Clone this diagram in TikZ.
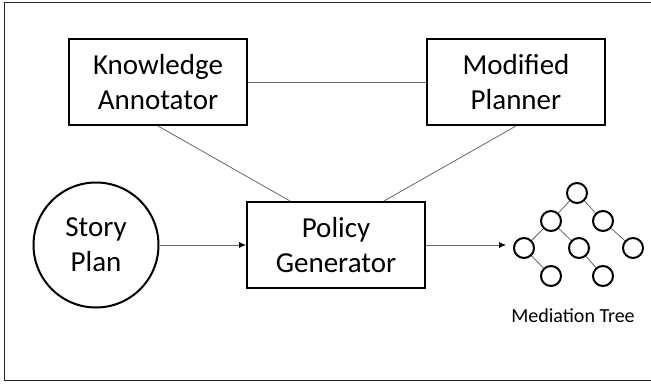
\documentclass[tikz,border=0pt]{standalone}
\usepackage{fontspec}
\setmainfont{Carlito}
\usetikzlibrary{arrows.meta}

\begin{document}
\begin{tikzpicture}[x=1pt,y=-1pt]
\useasboundingbox (0,0) rectangle (651,385);
\draw[line width=1pt,black!85] (4,3) rectangle (670,380);

\begin{scope}[every node/.style={draw,line width=2pt,align=center,inner sep=0pt,
                                 font=\fontsize{29}{35}\selectfont}]
    \node[minimum width=178pt,minimum height=86pt] (ka) at (158,82) {Knowledge\\Annotator};
    \node[minimum width=178pt,minimum height=86pt] (mp) at (516,82) {Modified\\Planner};
    \node[minimum width=178pt,minimum height=86pt] (pg) at (336,245) {Policy\\Generator};
    \node[circle,minimum size=125pt] (sp) at (96,245) {Story\\Plan};
\end{scope}

\begin{scope}[every node/.style={circle,draw,line width=2pt,minimum size=20pt,inner sep=0pt}]
    \node (t1) at (577,193) {};
    \node (t2) at (551,221) {};
    \node (t3) at (603,221) {};
    \node (t4) at (524,248) {};
    \node (t5) at (579,248) {};
    \node (t6) at (633,248) {};
    \node (t7) at (551,276) {};
    \node (t8) at (603,276) {};
\end{scope}
\coordinate (tin) at (506,245);
\node[font=\fontsize{20}{24}\selectfont] (mt) at (573,316) {Mediation Tree};

\begin{scope}[>={Latex[black,length=7pt,width=6pt]},
              every edge/.style={draw=black!60,line width=0.8pt}]
    \path (ka) edge (mp);
    \path (ka.south) edge ([xshift=44pt]pg.north west);
    \path (mp.south) edge ([xshift=-42pt]pg.north east);
    \path [->] (sp) edge (pg);
    \path [->] (pg.east) edge (tin);
    \path (t1) edge (t2);
    \path (t1) edge (t3);
    \path (t2) edge (t4);
    \path (t2) edge (t5);
    \path (t3) edge (t6);
    \path (t4) edge (t7);
    \path (t5) edge (t8);
\end{scope}
\end{tikzpicture}
\end{document}
